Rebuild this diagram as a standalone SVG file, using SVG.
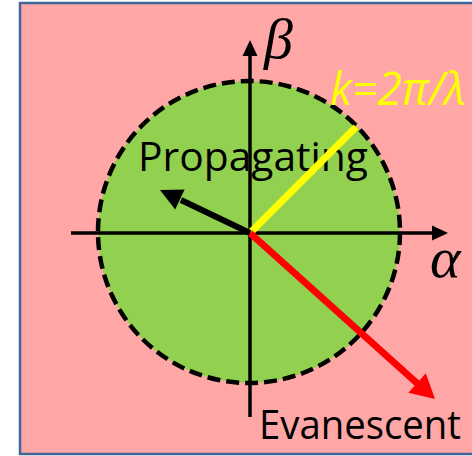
<svg xmlns="http://www.w3.org/2000/svg" width="472" height="456" viewBox="0 0 472 456">
<style>
.lbl{font-family:"Open Sans","Liberation Sans",sans-serif;font-size:41px;fill:#000}
.greek{font-family:"Liberation Serif","DejaVu Serif",serif;font-style:italic;font-size:58px;fill:#000}
.k{font-family:"Open Sans","Liberation Sans",sans-serif;font-style:italic;font-size:45px;fill:#FFFF00}
.axis{stroke:#000;stroke-width:3.5;fill:none}
</style>
<g id="background">
<rect x="20" y="3" width="470" height="451" fill="#FFA6A6" stroke="#41679A" stroke-width="2.5"/>
</g>
<g id="circle">
<circle cx="249" cy="232" r="151" fill="#92D050" stroke="#000" stroke-width="4.5" stroke-dasharray="13 6"/>
</g>
<g id="labels">
<text class="lbl" x="138" y="171" textLength="230" lengthAdjust="spacingAndGlyphs">Propagating</text>
<text class="lbl" x="259" y="439" font-size="40" textLength="202" lengthAdjust="spacingAndGlyphs">Evanescent</text>
<text class="k" x="330" y="105" textLength="136" lengthAdjust="spacingAndGlyphs">k=2π/λ</text>
<text class="greek" x="264" y="58">β</text>
<text class="greek" x="430" y="277">α</text>
</g>
<g id="connectors">
<line class="axis" x1="250" y1="417" x2="250" y2="54"/>
<polygon points="250,40 242.5,56 257.5,56" fill="#000"/>
<line class="axis" x1="71" y1="233" x2="434" y2="233"/>
<polygon points="448,233 432,225.5 432,240.5" fill="#000"/>
<line x1="250" y1="233" x2="356" y2="127" stroke="#FFFF00" stroke-width="7"/>
<line x1="250" y1="233" x2="419" y2="385" stroke="#FF0000" stroke-width="7"/>
<polygon points="435,399 425.8,373.3 408.4,392.7" fill="#FF0000"/>
<line x1="250" y1="233" x2="181" y2="200" stroke="#000" stroke-width="6"/>
<polygon points="160,190 184.6,189.6 175.2,209.4" fill="#000"/>
</g>
</svg>
